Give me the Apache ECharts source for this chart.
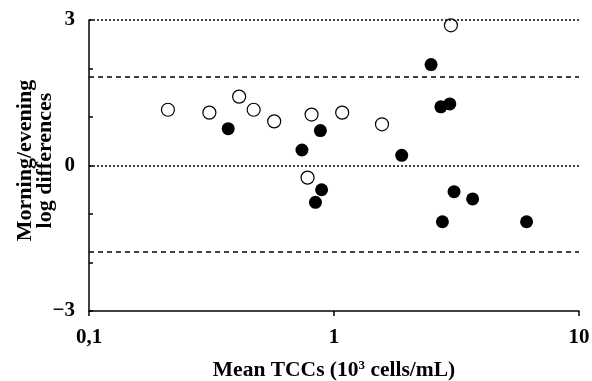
<!DOCTYPE html>
<html>
<head>
<meta charset="utf-8">
<script src="https://cdn.jsdelivr.net/npm/echarts@6/dist/echarts.min.js"></script>
<style>
  html, body { margin: 0; padding: 0; background: #fff; }
  #chart { width: 592px; height: 381px; }
</style>
</head>
<body>
<div id="chart"></div>
<script>
// open circles: [mean TCC, log difference]
const openPoints = [
  [0.21, 1.15], [0.31, 1.09], [0.41, 1.42], [0.47, 1.15], [0.57, 0.91],
  [0.81, 1.05], [1.08, 1.09], [1.57, 0.85], [3.0, 2.89], [0.78, -0.25]
];
// filled circles
const filledPoints = [
  [0.37, 0.76], [0.74, 0.32], [0.88, 0.72], [1.89, 0.21], [2.49, 2.08],
  [2.73, 1.21], [2.97, 1.27], [0.89, -0.5], [0.84, -0.76], [3.09, -0.54],
  [3.68, -0.69], [2.77, -1.16], [6.11, -1.16]
];
const dottedLevels = [3, 0];
const dashedLevels = [1.83, -1.78];
const yTickLabels = { '3': '3', '0': '0', '-3': '\u22123' };

const font = 'Liberation Serif';
const chart = echarts.init(document.getElementById('chart'));

const refLines = [
  ...dottedLevels.map(v => ({ yAxis: v, lineStyle: { type: [2, 2], color: '#000', width: 1.6 } })),
  ...dashedLevels.map(v => ({ yAxis: v, lineStyle: { type: [5, 4], color: '#000', width: 1.5 } }))
];

chart.setOption({
  animation: false,
  backgroundColor: '#fff',
  grid: { left: 89, right: 13, top: 20, bottom: 70, outerBoundsMode: 'none', containLabel: false },
  xAxis: {
    type: 'log',
    logBase: 10,
    min: 0.1,
    max: 10,
    axisLine: { onZero: false, lineStyle: { color: '#000', width: 1.5 } },
    axisTick: { show: true, length: 5, lineStyle: { color: '#000', width: 1.5 } },
    minorTick: { show: false },
    splitLine: { show: false },
    axisLabel: {
      color: '#000', fontFamily: font, fontWeight: 'bold', fontSize: 21, margin: 16,
      formatter: v => String(v).replace('.', ',')
    },
    name: '{a|Mean TCCs (10}{s|3}{a| cells/mL)}',
    nameLocation: 'middle',
    nameGap: 48,
    nameMoveOverlap: false,
    nameTextStyle: {
      rich: {
        a: { fontFamily: font, fontWeight: 'bold', fontSize: 21.5, color: '#000' },
        s: { fontFamily: font, fontWeight: 'bold', fontSize: 13, color: '#000', verticalAlign: 'top', padding: [0, 0, 9, 0] }
      }
    }
  },
  yAxis: {
    type: 'value',
    min: -3,
    max: 3,
    interval: 1,
    axisLine: { show: true, onZero: false, lineStyle: { color: '#000', width: 1.5 } },
    axisTick: { show: true, inside: true, length: 4, lineStyle: { color: '#000', width: 1.5 } },
    splitLine: { show: false },
    axisLabel: {
      color: '#000', fontFamily: font, fontWeight: 'bold', fontSize: 21, margin: 14,
      formatter: v => yTickLabels[String(v)] || ''
    },
    name: 'Morning/evening\nlog differences',
    nameLocation: 'middle',
    nameGap: 34,
    nameMoveOverlap: false,
    nameTextStyle: { fontFamily: font, fontWeight: 'bold', fontSize: 22, lineHeight: 20, color: '#000', padding: [0, 0, 0, 10] }
  },
  series: [
    {
      type: 'scatter',
      data: openPoints,
      symbol: 'circle',
      symbolSize: 13,
      itemStyle: { color: '#fff', borderColor: '#000', borderWidth: 1.2, opacity: 1 },
      markLine: { silent: true, symbol: ['none', 'none'], label: { show: false }, data: refLines },
      z: 3
    },
    {
      type: 'scatter',
      data: filledPoints,
      symbol: 'circle',
      symbolSize: 13,
      itemStyle: { color: '#000', opacity: 1 },
      z: 4
    }
  ]
});
</script>
</body>
</html>
